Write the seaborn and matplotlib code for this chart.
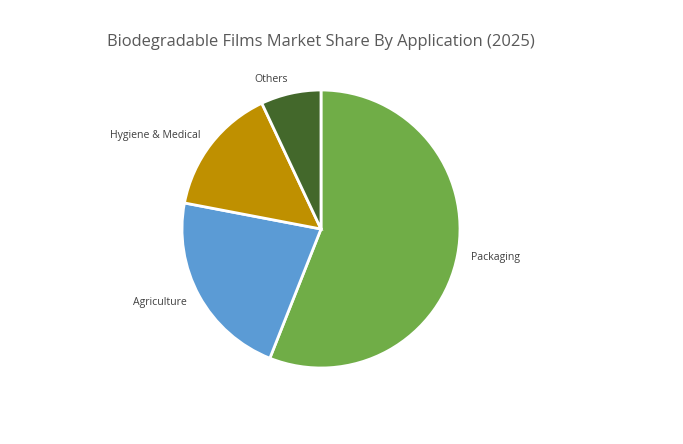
import matplotlib
matplotlib.use("Agg")
import matplotlib.pyplot as plt
import seaborn as sns

categories = ["Packaging", "Agriculture", "Hygiene & Medical", "Others"]
shares = [56, 22, 15, 7]
colors = ["#70AD47", "#5B9BD5", "#BF9000", "#43682B"]
title = "Biodegradable Films Market Share By Application (2025)"

sns.set_theme(style="white")
plt.rcParams["font.family"] = ["Open Sans", "DejaVu Sans"]

W, H = 683, 444
fig = plt.figure(figsize=(W / 100, H / 100), dpi=100)
cx, cy, r = 321, 229, 139
ax = fig.add_axes([(cx - r) / W, (H - cy - r) / H, 2 * r / W, 2 * r / H])

wedges, texts = ax.pie(
    shares, labels=categories, colors=colors, startangle=90, counterclock=False,
    labeldistance=1.1, wedgeprops=dict(edgecolor="white", linewidth=2),
    textprops=dict(fontsize=7.6, color="#404040"),
)
ax.set_xlim(-1, 1)
ax.set_ylim(-1, 1)
ax.set_aspect("equal")

fig.text(cx / W, 1 - 42 / H, title, ha="center", va="center", fontsize=11.9, color="#595959")

fig.savefig("out.png", dpi=100)
